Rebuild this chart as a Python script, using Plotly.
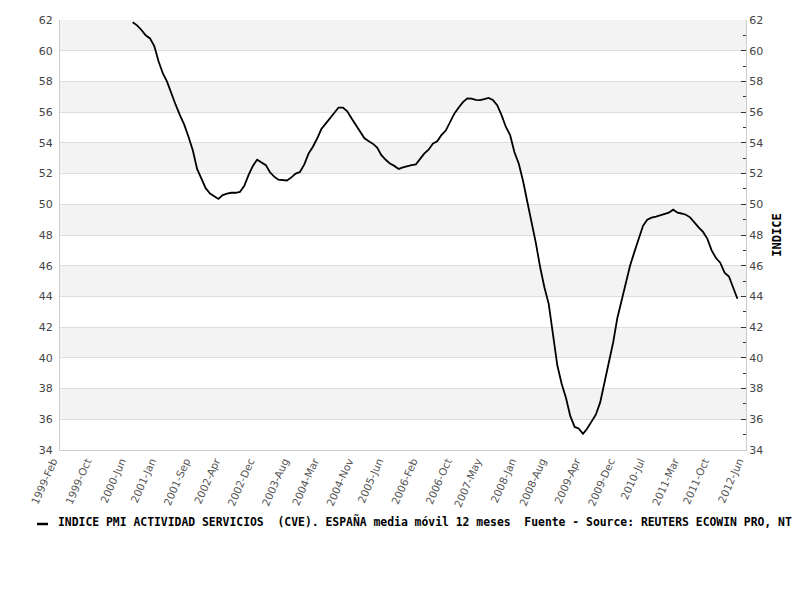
import plotly.graph_objects as go
import pandas as pd

# ---- data (monthly, 12-month moving average) ----
start_month = "2000-07-01"
pmi_values = [
    61.85, 61.65, 61.35, 61.00, 60.80, 60.30,            # 2000 Jul-Dec
    59.30, 58.50, 58.00, 57.20, 56.50, 55.80, 55.20, 54.40, 53.50, 52.30, 51.60, 51.05,   # 2001
    50.70, 50.50, 50.35, 50.60, 50.70, 50.75, 50.75, 50.80, 51.20, 51.90, 52.50, 52.90,   # 2002
    52.75, 52.55, 52.10, 51.80, 51.60, 51.55, 51.55, 51.75, 52.00, 52.10, 52.60, 53.30,   # 2003
    53.75, 54.30, 54.90, 55.25, 55.60, 55.95, 56.30, 56.30, 56.05, 55.60, 55.15, 54.70,   # 2004
    54.30, 54.10, 53.95, 53.70, 53.20, 52.90, 52.65, 52.50, 52.30, 52.40, 52.50, 52.55,   # 2005
    52.60, 53.00, 53.30, 53.55, 53.95, 54.10, 54.50, 54.80, 55.35, 55.90, 56.30, 56.65,   # 2006
    56.90, 56.88, 56.80, 56.78, 56.85, 56.93, 56.80, 56.45, 55.80, 55.05, 54.50, 53.40,   # 2007
    52.65, 51.50, 50.20, 48.90, 47.50, 45.90, 44.60, 43.50, 41.60, 39.50, 38.30, 37.40,   # 2008
    36.20, 35.50, 35.40, 35.05, 35.40, 35.85, 36.30, 37.10, 38.40, 39.60, 41.00, 42.60,   # 2009
    43.80, 45.10, 46.00, 46.90, 47.75, 48.60, 49.00, 49.13, 49.20, 49.30, 49.38, 49.45,   # 2010
    49.65, 49.45, 49.40, 49.32, 49.15, 48.80, 48.50, 48.20, 47.75, 47.00, 46.50, 46.20,   # 2011
    45.55, 45.30, 44.60, 43.85,                                                           # 2012 Jan-Apr
]
dates = pd.date_range(start_month, periods=len(pmi_values), freq="MS")

tick_dates = ["1999-02-01", "1999-10-01", "2000-06-01", "2001-01-01", "2001-09-01",
              "2002-04-01", "2002-12-01", "2003-08-01", "2004-03-01", "2004-11-01",
              "2005-06-01", "2006-02-01", "2006-10-01", "2007-05-01", "2008-01-01",
              "2008-08-01", "2009-04-01", "2009-12-01", "2010-07-01", "2011-03-01",
              "2011-10-01", "2012-06-01"]
tick_labels = ["1999-Feb", "1999-Oct", "2000-Jun", "2001-Jan", "2001-Sep", "2002-Apr",
               "2002-Dec", "2003-Aug", "2004-Mar", "2004-Nov", "2005-Jun", "2006-Feb",
               "2006-Oct", "2007-May", "2008-Jan", "2008-Aug", "2009-Apr", "2009-Dec",
               "2010-Jul", "2011-Mar", "2011-Oct", "2012-Jun"]
y_ticks = [34, 36, 38, 40, 42, 44, 46, 48, 50, 52, 54, 56, 58, 60, 62]
y_minor = [35, 37, 39, 41, 43, 45, 47, 49, 51, 53, 55, 57, 59, 61]

# legend text as shown in the reference (cut at the right edge there)
series_name = ("INDICE PMI ACTIVIDAD SERVICIOS  (CVE). ESPAÑA media móvil 12 meses  "
               "Fuente - Source: REUTERS ECOWIN PRO, NT")
y_title = "INDICE"

# ---- figure ----
fig = go.Figure()
fig.add_trace(go.Scatter(x=dates, y=pmi_values, mode="lines",
                         line=dict(color="black", width=1.8),
                         name=series_name, showlegend=False, yaxis="y"))
# invisible copy to carry the right-hand axis
fig.add_trace(go.Scatter(x=dates, y=pmi_values, mode="lines",
                         line=dict(color="rgba(0,0,0,0)", width=0),
                         hoverinfo="skip", showlegend=False, yaxis="y2"))

# alternating bands
shapes = []
for i in range(len(y_ticks) - 1):
    lo, hi = y_ticks[i], y_ticks[i + 1]
    if hi in (62, 58, 54, 50, 46, 42, 38):
        shapes.append(dict(type="rect", xref="paper", yref="y", x0=0, x1=1, y0=lo, y1=hi,
                           fillcolor="#f3f3f3", line=dict(width=0), layer="below"))
# legend marker
shapes.append(dict(type="line", xref="paper", yref="paper",
                   x0=-23 / 686, x1=-12 / 686, y0=-74 / 430, y1=-74 / 430,
                   line=dict(color="black", width=2.5)))

tick_font = dict(family="DejaVu Sans", size=11, color="#444444")

# the page body adds an 8px offset, so margins are reduced accordingly
fig.update_layout(
    width=800, height=600,
    margin=dict(l=52, r=62, t=12, b=158, autoexpand=False),
    paper_bgcolor="white", plot_bgcolor="white",
    shapes=shapes,
    xaxis=dict(type="date", range=[tick_dates[0], tick_dates[-1]],
               tickmode="array", tickvals=tick_dates, ticktext=tick_labels,
               tickangle=-66, tickfont=dict(family="DejaVu Sans", size=10.5, color="#555555"),
               ticklabelshift=-7,
               showgrid=False, zeroline=False, showline=True, linecolor="#cccccc",
               linewidth=1, ticks="", automargin=False),
    yaxis=dict(range=[34, 62], tickmode="array", tickvals=y_ticks,
               tickfont=tick_font, showgrid=True, gridcolor="#dddddd", gridwidth=1,
               zeroline=False, showline=True, linecolor="#cccccc", ticks="",
               ticklabelstandoff=4, automargin=False),
    yaxis2=dict(range=[34, 62], overlaying="y", side="right", matches="y",
                tickmode="array", tickvals=y_ticks, tickfont=tick_font,
                showgrid=False, zeroline=False, showline=True, linecolor="#cccccc",
                ticks="inside", ticklen=5, tickcolor="#333333", automargin=False,
                minor=dict(ticks="inside", ticklen=3, tickcolor="#333333",
                           tickvals=y_minor, showgrid=False),
                title=dict(text=y_title, font=dict(family="DejaVu Sans Mono", size=12,
                                                   color="black", weight="bold"),
                           standoff=10)),
    annotations=[dict(text=series_name, xref="paper", yref="paper", x=0, y=0,
                      xanchor="left", yanchor="middle", xshift=-4, yshift=-71,
                      showarrow=False, align="left",
                      font=dict(family="DejaVu Sans Mono", size=11.4, color="black",
                                weight="bold"))],
)

fig.write_html("out.html")
